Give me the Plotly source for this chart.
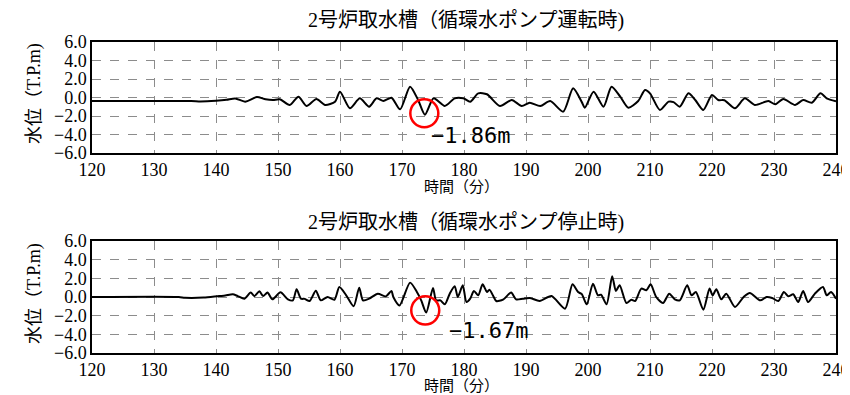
import plotly.graph_objects as go

# ---- data ----
t_run = [120, 136, 137.5, 140, 141.7, 143.1, 144.7, 146.6, 148, 149.2, 150.3, 151.9, 153.3, 154.6,
         156.2, 157.6, 159.2, 160, 161.6, 163.2, 164.7, 165.9, 167, 168.3, 169.7, 171.3, 172.6,
         173.7, 175.1, 176.9, 178.5, 179.9, 181, 182.3, 183.7, 185.8, 187.7, 189.3, 190.6, 192.3,
         193.9, 196, 197.6, 199, 199.5, 200.9, 202.5, 203.8, 205.2, 206.5, 208.1, 209.2, 210,
         211.6, 213, 213.8, 214.8, 216.2, 217.3, 218.6, 220, 221, 222, 223.7, 225.3, 226.9, 229.1,
         230.2, 231.5, 233.4, 234.7, 236.1, 237.5, 238.5, 240]
v_run = [-0.38, -0.38, -0.42, -0.35, -0.25, -0.1, -0.45, 0.05, -0.2, -0.27, -0.2, -0.81, 0.09, -0.92,
         -0.16, -0.81, -0.45, 0.63, -1.17, -0.09, -0.99, -0.09, -0.38, -0.02, -1.28, 1.17, -0.27,
         -1.86, -0.09, -0.92, -0.09, -0.09, -0.45, 0.45, 0.35, -0.92, -0.27, -0.92, -0.56, -0.92,
         -0.38, -1.53, 0.99, -0.5, -1.1, 0.63, -0.99, 1.17, 0.09, -1.1, -0.38, 0.81, 0.45,
         -1.35, -0.45, -0.5, -0.99, 0.45, -0.27, -1.35, 0.27, -0.27, -0.3, -1.17, -0.09, -0.81, -0.38,
         -0.74, -0.16, -0.81, -0.27, -0.56, 0.45, -0.09, -0.4]

t_stop = [120, 134, 135, 138, 140.5, 141.5, 142.7, 143.5, 144.6, 145.6, 146.2, 147, 147.6, 148.3,
          149.1, 150.4, 151.6, 152.4, 153, 153.7, 154.3, 155.1, 156.1, 156.9, 158, 159.1, 159.9,
          161, 162.2, 163.1, 163.7, 164.7, 166.1, 167.4, 168.3, 168.6, 169.6, 171.3, 172.4, 173.1,
          173.9, 175, 175.5, 176.2, 176.9, 177.7, 178.5, 179, 179.8, 180.4, 181, 181.6, 182.3, 183,
          183.7, 184.1, 184.8, 185.2, 186.3, 187.6, 188.4, 189.5, 190.6, 192.2, 194.1, 196.3, 197.5,
          198.4, 199.0, 199.8, 200.8, 201.6, 202.1, 203, 203.9, 204.5, 205.1, 206.2, 207, 207.6,
          208.6, 209.4, 210.1, 211, 212.1, 213.1, 214, 214.8, 216, 216.7, 217.4, 218.6, 219.6,
          220.1, 220.7, 221.5, 222.3, 223.7, 225.1, 226.1, 227.8, 228.8, 229.7, 230.7, 231.6, 232.3,
          233.1, 233.9, 234.7, 235.5, 236.6, 237.9, 238.5, 239.2, 240]
v_stop = [0, 0, -0.08, -0.06, 0.1, 0.15, 0.29, 0.1, -0.18, 0.47, 0.1, 0.61, 0.1, 0.47,
          -0.25, 0.5, -0.25, -0.36, 0.82, -0.18, -0.2, -0.43, 0.68, -0.36, 0, -0.29, 1.07,
          0.18, -1.0, 1.0, -0.36, -0.18, 0.36, 0.07, 0.65, 0, -0.9, 1.54, 0.54, -0.36,
          -1.67, 0.97, -0.36, -0.36, -0.79, 0.36, 1.15, 0, 1.25, -0.54, -0.18, 0.65, 0.18, 1.36,
          0.54, 0.79, 0, -0.43, -0.29, 0.47, -0.25, -0.18, -0.1, -0.43, 0.1, -1.25, 1.36,
          0.54, 0.3, -0.79, 1.43, 0.18, 0.25, -0.79, 2.22, 0.65, 1.25, -0.65, -0.29, -0.43,
          0.9, 0.72, 1.36, 0, -0.65, 0.36, -0.25, -0.36, 1.25, 0.18, 0.54, -1.36, 0.9,
          0.18, 0.82, -0.25, 0.36, -1.07, 0, 0.43, -0.36, 0, -0.1, -0.43, 0.54, 0.07,
          0.29, -0.54, 0.65, -0.54, 0.36, 1.07, 0.18, 0.54, -0.18]

titles = ["2号炉取水槽（循環水ポンプ運転時)", "2号炉取水槽（循環水ポンプ停止時)"]
x_title = "時間（分）"
y_title = "水位（T.P.m)"
peak_labels = ["−1.86m", "−1.67m"]
x_ticks = list(range(120, 241, 10))
y_ticks = [-6, -4, -2, 0, 2, 4, 6]

# ---- figure ----
W, H = 850, 395
OFF = 8  # page body margin

def px(sx):
    return (sx - OFF) / W

def py(sy):
    return 1 - (sy - OFF) / H

fig = go.Figure()
fig.add_trace(go.Scatter(x=t_run, y=v_run, mode="lines", line=dict(color="black", width=2, shape="spline", smoothing=0.7),
                         xaxis="x", yaxis="y", showlegend=False))
fig.add_trace(go.Scatter(x=t_stop, y=v_stop, mode="lines", line=dict(color="black", width=2, shape="spline", smoothing=0.7),
                         xaxis="x2", yaxis="y2", showlegend=False))

serif = "Liberation Serif, Noto Sans CJK JP"
xd = [px(92), px(836)]
dom1 = [py(153), py(42)]
dom2 = [py(353), py(241)]

def xax(anchor):
    return dict(domain=xd, range=[120, 240], tickvals=x_ticks, anchor=anchor, automargin=False,
                showgrid=True, gridcolor="#8c8c8c", griddash="dash", gridwidth=1,
                showline=True, mirror=True, linecolor="black", linewidth=1.5,
                zeroline=False, ticks="", tickfont=dict(family=serif, size=18, color="black"))

def yax(dom, anchor):
    return dict(domain=dom, range=[-6, 6], tickvals=y_ticks, tickformat=".1f", anchor=anchor, automargin=False,
                showgrid=True, gridcolor="#8c8c8c", griddash="dash", gridwidth=1,
                showline=True, mirror=True, linecolor="black", linewidth=1.5,
                zeroline=False, ticks="", tickfont=dict(family=serif, size=18, color="black"))

fig.update_layout(
    width=W, height=H, margin=dict(l=0, r=0, t=0, b=0, autoexpand=False),
    plot_bgcolor="white", paper_bgcolor="white",
    xaxis=xax("y"), yaxis=yax(dom1, "x"),
    xaxis2=xax("y2"), yaxis2=yax(dom2, "x2"),
)

def note(text, sx, sy, font, angle=0):
    return dict(text=text, x=px(sx), y=py(sy), xref="paper", yref="paper", xanchor="center",
                yanchor="middle", showarrow=False, textangle=angle, font=font)

ann = []
for i, (ty, xy, yc) in enumerate([(20, 187, 94), (222, 386, 294)]):
    ann.append(note(titles[i], 466, ty, dict(family=serif, size=20, color="black")))
    ann.append(note(x_title, 462, xy, dict(family=serif, size=15, color="black")))
    ann.append(note(y_title, 34, yc, dict(family=serif, size=18, color="black"), -90))

ann.append(note(peak_labels[0], 470, 136, dict(family="DejaVu Sans Mono", size=22, color="black")))
ann.append(note(peak_labels[1], 488, 330, dict(family="DejaVu Sans Mono", size=22, color="black")))
fig.update_layout(annotations=ann)

circles = [("x", "y", 173.6, -1.71), ("x2", "y2", 173.75, -1.43)]
for xr, yr, cx, cy in circles:
    rx, ry = 14 / 6.2, 14 / 9.25
    fig.add_shape(type="circle", xref=xr, yref=yr, x0=cx - rx, x1=cx + rx, y0=cy - ry, y1=cy + ry,
                  line=dict(color="red", width=2.5))

fig.write_html("out.html")
